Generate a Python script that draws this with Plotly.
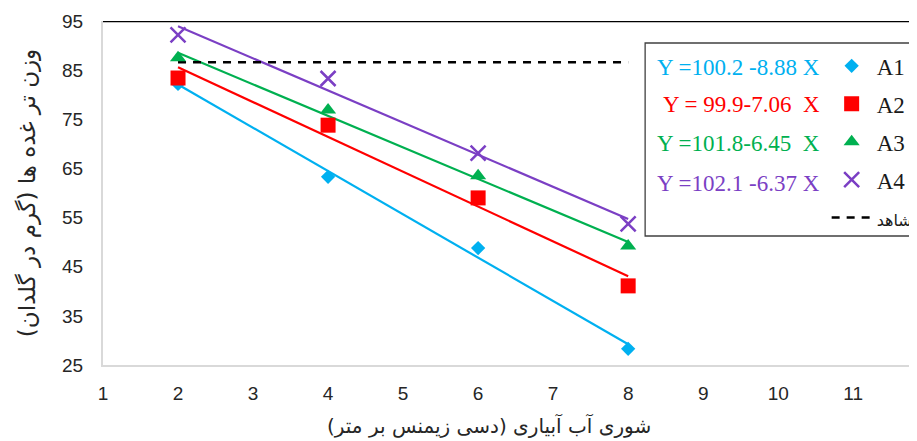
import numpy as np
import plotly.graph_objects as go

# salinity levels (dS/m)
salinity = [2, 4, 6, 8]

# tuber fresh weight (g per pot)
a1 = [82.2, 63.3, 48.8, 28.3]
a2 = [83.4, 73.8, 59.0, 41.1]
a3 = [87.5, 76.9, 63.5, 49.2]
a4 = [92.2, 83.3, 68.1, 53.7]

control_x = [2, 8]
control_y = [86.6, 86.6]

names = ['A1', 'A2', 'A3', 'A4']
equations = ['Y =100.2 -8.88 X', 'Y = 99.9-7.06  X', 'Y =101.8-6.45  X', 'Y =102.1 -6.37 X']
colors = ['#00b0f0', '#ff0000', '#00b050', '#7b3fc4']
symbols = ['diamond', 'square', 'triangle-up', 'x-thin-open']
sizes = [11, 15, 14, 15]

fig = go.Figure()

# trendlines (least squares, like the Excel trendline)
xs = np.array(salinity, dtype=float)
for ys, c in zip([a1, a2, a3, a4], colors):
    slope, icpt = np.polyfit(xs, np.array(ys), 1)
    fig.add_trace(go.Scatter(x=[xs[0], xs[-1]], y=[icpt + slope * xs[0], icpt + slope * xs[-1]],
                             mode='lines', line=dict(color=c, width=2.2),
                             showlegend=False, hoverinfo='skip'))

# control
fig.add_trace(go.Scatter(x=control_x, y=control_y, mode='lines',
                         name="<span style='font-size:16px;font-family:DejaVu Sans'>شاهد</span>",
                         line=dict(color='black', width=2.5, dash='8px,7px'),
                         legendgroup='g5', legendrank=5))

# measured points
for i, (ys, n) in enumerate(zip([a1, a2, a3, a4], names)):
    mk = dict(color=colors[i], size=sizes[i], symbol=symbols[i])
    if symbols[i] == 'x-thin-open':
        mk['line'] = dict(color=colors[i], width=2.5)
    fig.add_trace(go.Scatter(x=salinity, y=ys, mode='markers', name=n, marker=mk,
                             legendgroup=f'g{i}', legendrank=i + 1))

# legend frame
fig.add_shape(type='rect', xref='paper', yref='paper', x0=0.666, x1=1.05, y0=0.375, y1=0.936,
              line=dict(color='#404040', width=1.3), fillcolor='white', layer='below')

# top border line
fig.add_shape(type='line', xref='paper', yref='y', x0=0, x1=1, y0=95, y1=95,
              line=dict(color='black', width=2.5))

# regression equations
eq_y = [0.866, 0.758, 0.645, 0.529]
for eq, c, yy in zip(equations, colors, eq_y):
    fig.add_annotation(x=0.883, y=yy, xref='paper', yref='paper', text=eq, showarrow=False,
                       xanchor='right', yanchor='middle',
                       font=dict(family='Liberation Serif', size=23, color=c))

# x axis title (sits a little left of the plot centre in the original)
fig.add_annotation(x=0.474, y=-0.175, xref='paper', yref='paper',
                   text='شوری آب آبیاری (دسی زیمنس بر متر)', showarrow=False,
                   xanchor='center', yanchor='middle',
                   font=dict(family='DejaVu Sans', size=20, color='#262626'))

# page body has an 8px margin, so the plot area is offset by that
fig.update_layout(
    width=917, height=441,
    margin=dict(l=95, r=8, t=13, b=84, autoexpand=False),
    plot_bgcolor='white', paper_bgcolor='white',
    font=dict(family='Liberation Sans', size=19, color='#262626'),
    legend=dict(x=0.889, y=0.932, xanchor='left', yanchor='top',
                bgcolor='rgba(0,0,0,0)', borderwidth=0, tracegroupgap=5,
                font=dict(family='Liberation Serif', size=23, color='#1a1a1a'),
                itemsizing='trace', itemwidth=40),
    showlegend=True,
)

fig.update_xaxes(range=[1, 11.85], dtick=1, tick0=1, showgrid=False, zeroline=False,
                 showline=True, linecolor='#d9d9d9', linewidth=2, ticks='',
                 ticklabelstandoff=10)
fig.update_yaxes(range=[25, 95], dtick=10, tick0=25, showgrid=False, zeroline=False,
                 showline=True, linecolor='#d9d9d9', linewidth=2, ticks='',
                 ticklabelstandoff=14,
                 title=dict(text='وزن تر غده ها (گرم در گلدان)', standoff=20,
                            font=dict(family='DejaVu Sans', size=23, color='#262626')))

fig.write_html('out.html')
